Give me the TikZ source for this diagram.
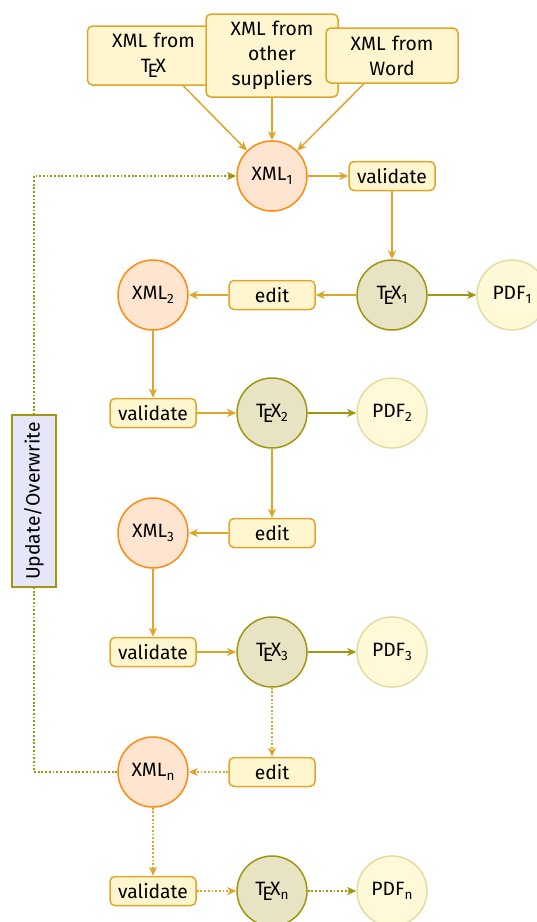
\documentclass[tikz,border=0pt]{standalone}
\usepackage{fontspec}
\setmainfont{Fira Sans}
\usetikzlibrary{arrows.meta}
\definecolor{gold}{HTML}{DDA62A}
\definecolor{boxfill}{HTML}{FFF5CE}
\definecolor{xmlline}{HTML}{FF8A10}
\definecolor{xmlfill}{HTML}{FFE5CF}
\definecolor{texline}{HTML}{A09612}
\definecolor{texfill}{HTML}{E8E3C3}
\definecolor{pdfline}{HTML}{E3DBA2}
\definecolor{pdffill}{HTML}{FFF9D8}
\definecolor{lav}{HTML}{E6E6FA}
\newcommand\lowsub[1]{\raisebox{-0.45ex}{\fontsize{13.5}{13.5}\selectfont #1}}
\begin{document}
\begin{tikzpicture}[x=1pt,y=-1pt,
  font=\fontsize{19.3}{25}\selectfont,
  every node/.style={line width=1.5pt},
  srcbox/.style={draw=gold,fill=boxfill,rounded corners=5pt,text width=124pt,align=center,inner sep=4pt},
  actbox/.style={draw=gold,fill=boxfill,rounded corners=5pt,minimum width=86pt,minimum height=29pt,inner sep=2pt},
  xmlc/.style={circle,draw=xmlline,fill=xmlfill,minimum size=70pt,inner sep=0pt},
  texc/.style={circle,draw=texline,fill=texfill,minimum size=70pt,inner sep=0pt},
  pdfc/.style={circle,draw=pdfline,fill=pdffill,minimum size=70pt,inner sep=0pt},
  tip/.style={-{Stealth[length=9pt,width=8pt,inset=2.5pt]}},
  garr/.style={tip,draw=gold,line width=1.5pt},
  oarr/.style={tip,draw=texline,line width=1.5pt},
  dots/.style={dash pattern=on 1.8pt off 1.9pt}
]
\useasboundingbox (0,0) rectangle (537,922);
% sources
\node[srcbox,minimum height=59pt] (s1) at (153.5,55.5) {XML from\\\TeX};
\node[srcbox,minimum height=83pt] (s2) at (272,55.5) {XML from\\other\\suppliers};
\node[srcbox,minimum height=55pt] (s3) at (392,55.5) {XML from\\Word};
% row 1
\node[xmlc] (x1) at (272,176) {XML\lowsub{1}};
\node[actbox] (v1) at (392,176) {validate};
\node[texc] (t1) at (392,295) {\TeX\lowsub{1}};
\node[pdfc] (p1) at (512,295) {PDF\lowsub{1}};
\node[actbox] (e1) at (272,295) {edit};
\node[xmlc] (x2) at (153,295) {XML\lowsub{2}};
% row 2
\node[actbox] (v2) at (153,413) {validate};
\node[texc] (t2) at (272,413) {\TeX\lowsub{2}};
\node[pdfc] (p2) at (392,413) {PDF\lowsub{2}};
\node[actbox] (e2) at (272,533) {edit};
\node[xmlc] (x3) at (153,533) {XML\lowsub{3}};
% row 3
\node[actbox] (v3) at (153,652) {validate};
\node[texc] (t3) at (272,652) {\TeX\lowsub{3}};
\node[pdfc] (p3) at (392,652) {PDF\lowsub{3}};
\node[actbox] (en) at (272,772) {edit};
\node[xmlc] (xn) at (153,772) {XML\lowsub{n}};
% row n
\node[actbox] (vn) at (153,891) {validate};
\node[texc] (tn) at (272,891) {\TeX\lowsub{n}};
\node[pdfc] (pn) at (392,891) {PDF\lowsub{n}};
% connectors
\draw[garr] (s1) -- (x1);
\draw[garr] (s2) -- (x1);
\draw[garr] (s3) -- (x1);
\draw[garr] (x1) -- (v1);
\draw[garr] (v1) -- (t1);
\draw[oarr] (t1) -- (p1);
\draw[garr] (t1) -- (e1);
\draw[garr] (e1) -- (x2);
\draw[garr] (x2) -- (v2);
\draw[garr] (v2) -- (t2);
\draw[oarr] (t2) -- (p2);
\draw[garr] (t2) -- (e2);
\draw[garr] (e2) -- (x3);
\draw[garr] (x3) -- (v3);
\draw[garr] (v3) -- (t3);
\draw[oarr] (t3) -- (p3);
\draw[garr,dots] (t3) -- (en);
\draw[garr,dots] (en) -- (xn);
\draw[garr,dots] (xn) -- (vn);
\draw[garr,dots] (vn) -- (tn);
\draw[oarr,dots] (tn) -- (pn);
% feedback loop
\coordinate (lb) at (34,772);
\coordinate (lt) at (34,176);
\draw[oarr,dots] (xn) -- (lb) -- (lt) -- (x1);
\node[draw=texline,fill=lav,rotate=90,minimum width=172pt,minimum height=44pt,inner sep=2pt] (upd) at (34,501) {Update/Overwrite};
\end{tikzpicture}
\end{document}
